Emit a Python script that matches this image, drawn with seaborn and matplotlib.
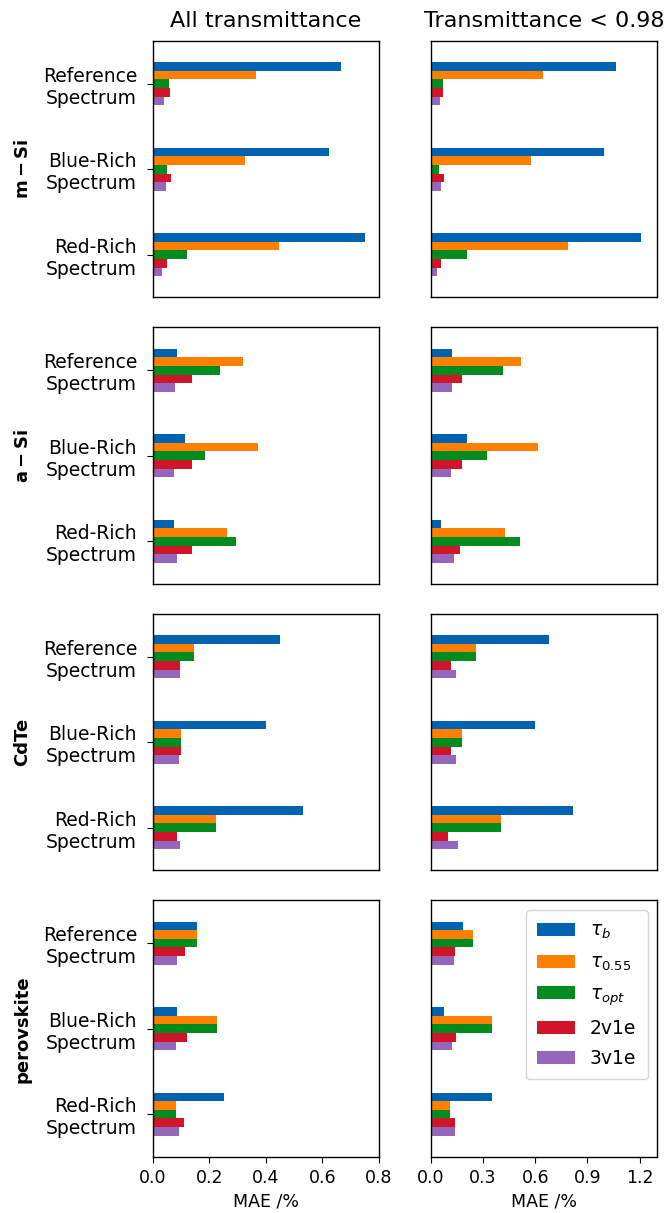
import matplotlib
matplotlib.use("Agg")
import matplotlib.pyplot as plt
import seaborn as sns
import pandas as pd

# Categories
spectra = ["Reference\nSpectrum", "Blue-Rich\nSpectrum", "Red-Rich\nSpectrum"]
methods = [r"$\tau_b$", r"$\tau_{0.55}$", r"$\tau_{opt}$", "2v1e", "3v1e"]
materials = ["m-Si", "a-Si", "CdTe", "perovskite"]
material_labels = [r"$\mathbf{m-Si}$", r"$\mathbf{a-Si}$", "CdTe", "perovskite"]
column_titles = ["All transmittance", "Transmittance < 0.98"]

# MAE (%) per method (rows) for Reference / Blue-Rich / Red-Rich spectra (columns)
msi_all = [[0.667, 0.622, 0.749],
           [0.363, 0.324, 0.446],
           [0.055, 0.051, 0.119],
           [0.060, 0.065, 0.051],
           [0.040, 0.045, 0.031]]
asi_all = [[0.085, 0.113, 0.074],
           [0.320, 0.373, 0.261],
           [0.236, 0.183, 0.295],
           [0.138, 0.138, 0.138],
           [0.079, 0.074, 0.085]]
cdte_all = [[0.448, 0.399, 0.531],
            [0.144, 0.100, 0.223],
            [0.144, 0.100, 0.223],
            [0.096, 0.100, 0.085],
            [0.096, 0.091, 0.096]]
pvk_all = [[0.155, 0.086, 0.252],
           [0.155, 0.228, 0.080],
           [0.155, 0.228, 0.080],
           [0.114, 0.120, 0.110],
           [0.086, 0.080, 0.091]]

msi_lt098 = [[1.065, 0.994, 1.208],
             [0.644, 0.574, 0.788],
             [0.067, 0.044, 0.208],
             [0.067, 0.076, 0.059],
             [0.052, 0.059, 0.036]]
asi_lt098 = [[0.124, 0.210, 0.059],
             [0.520, 0.614, 0.424],
             [0.417, 0.321, 0.512],
             [0.178, 0.178, 0.170],
             [0.124, 0.115, 0.130]]
cdte_lt098 = [[0.679, 0.598, 0.820],
              [0.258, 0.178, 0.402],
              [0.258, 0.178, 0.402],
              [0.115, 0.115, 0.099],
              [0.147, 0.147, 0.155]]
pvk_lt098 = [[0.187, 0.076, 0.354],
             [0.243, 0.354, 0.107],
             [0.243, 0.354, 0.107],
             [0.140, 0.147, 0.140],
             [0.132, 0.122, 0.140]]

panel_data = [[msi_all, msi_lt098],
              [asi_all, asi_lt098],
              [cdte_all, cdte_lt098],
              [pvk_all, pvk_lt098]]

palette = ["#0063B1", "#FF8000", "#008C1E", "#D0152A", "#9467BD"]

col_xlim = [(0, 0.8), (0, 1.3)]
col_xticks = [[0.0, 0.2, 0.4, 0.6, 0.8], [0.0, 0.3, 0.6, 0.9, 1.2]]

plt.rcParams["font.family"] = ["DejaVu Sans"]

fig, axes = plt.subplots(4, 2, figsize=(6.71, 12.13), dpi=100)
fig.subplots_adjust(left=0.228, right=0.979, top=0.9662, bottom=0.0462,
                    wspace=0.23, hspace=0.117)


def to_frame(values):
    rows = []
    for m, method in enumerate(methods):
        for s, spec in enumerate(spectra):
            rows.append({"spectrum": spec, "method": method, "mae": values[m][s]})
    return pd.DataFrame(rows)


for r in range(4):
    for c in range(2):
        ax = axes[r, c]
        df = to_frame(panel_data[r][c])
        sns.barplot(data=df, x="mae", y="spectrum", hue="method",
                    order=spectra, hue_order=methods, palette=palette,
                    orient="h", width=0.5, saturation=1, errorbar=None,
                    legend=(r == 3 and c == 1), ax=ax)
        ax.set_xlim(*col_xlim[c])
        ax.set_xticks(col_xticks[c])
        ax.set_ylim(2.5, -0.5)
        for sp in ax.spines.values():
            sp.set_visible(True)
            sp.set_color("black")
            sp.set_linewidth(1.0)
        ax.tick_params(axis="x", labelsize=12.5, colors="black",
                       length=4.5, pad=4)
        ax.tick_params(axis="y", colors="black", length=4.5, pad=7)
        if r < 3:
            ax.tick_params(axis="x", bottom=False, labelbottom=False)
            ax.set_xlabel("")
        else:
            ax.set_xlabel("MAE /%", fontsize=12.5)
        if c == 1:
            ax.tick_params(axis="y", left=False, labelleft=False)
            ax.set_ylabel("")
        else:
            ax.set_yticks(range(len(spectra)))
            ax.set_yticklabels(spectra, fontsize=13.5)
            ax.set_ylabel(material_labels[r], fontsize=13, fontweight="bold",
                          labelpad=8)
        if r == 0:
            ax.set_title(column_titles[c], fontsize=16, pad=10)

leg_ax = axes[3, 1]
handles, labels = leg_ax.get_legend_handles_labels()
leg_ax.legend(handles, labels, loc="upper right", fontsize=13.5,
              labelspacing=0.6, handlelength=2.0, borderpad=0.6,
              handletextpad=0.8, frameon=True)

fig.align_ylabels(axes[:, 0])
fig.savefig("out.png", dpi=100)
